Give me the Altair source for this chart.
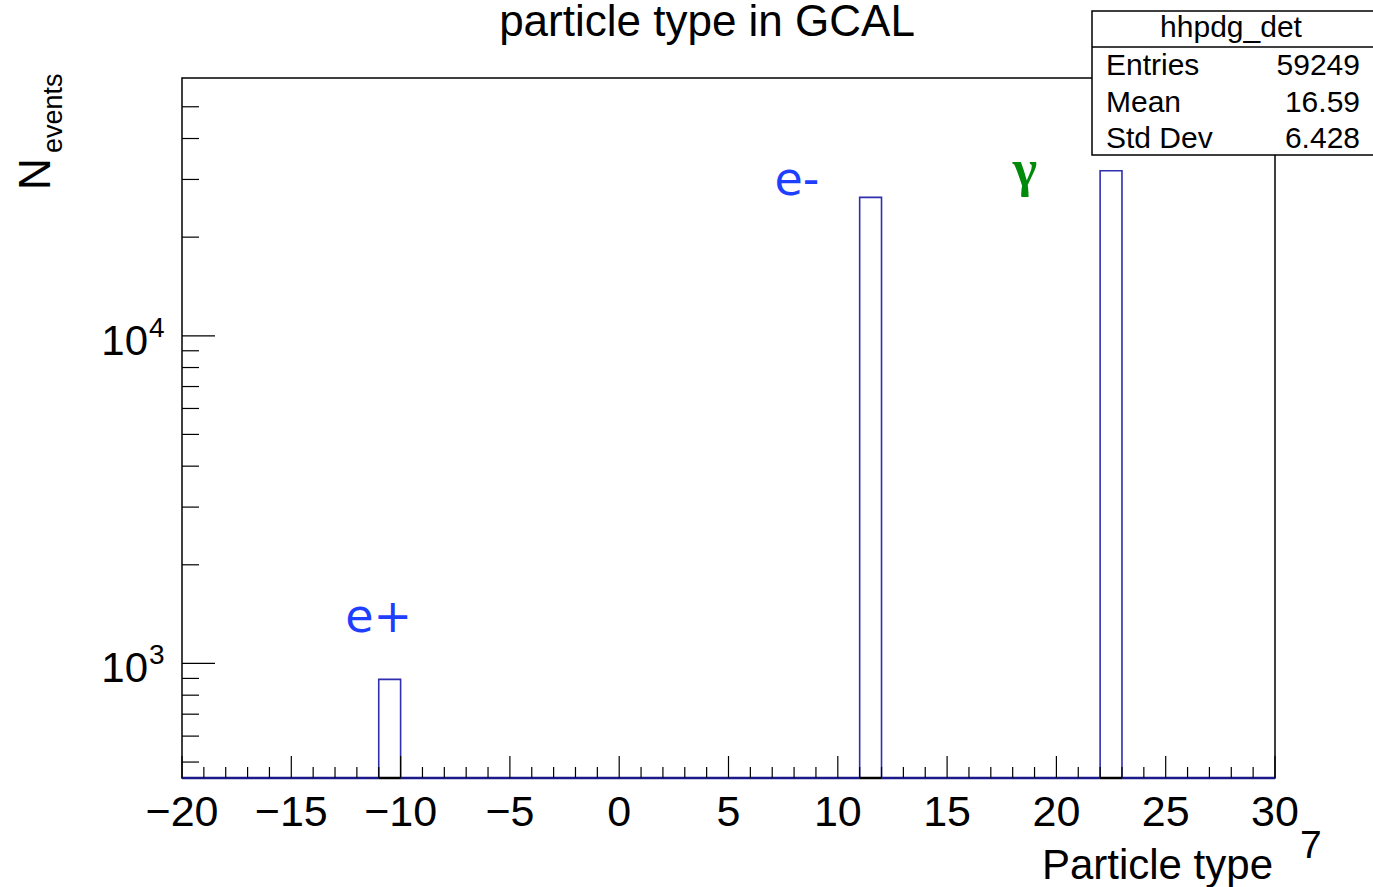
import altair as alt
import pandas as pd

# ---------------- data ----------------
bin_lo = [-11, 11, 22]
bin_hi = [-10, 12, 23]
counts = [894, 26458, 31897]

x_domain = [-20, 30]
y_domain = [447, 61200]

x_major = [-20, -15, -10, -5, 0, 5, 10, 15, 20, 25, 30]
x_major_labels = ["\u221220", "\u221215", "\u221210", "\u22125", "0", "5", "10", "15", "20", "25", "30"]
x_minor = [v for v in range(-20, 31) if v % 5 != 0]

y_major = [1000, 10000]
y_major_base = ["10", "10"]
y_major_exp = ["3", "4"]
y_minor = [500, 600, 700, 800, 900,
           2000, 3000, 4000, 5000, 6000, 7000, 8000, 9000,
           20000, 30000, 40000, 50000]

ann_text = ["e+", "e-"]
ann_x = [-11.0, 8.13]
ann_y = [1246, 26890]
gamma_text = ["\u03b3"]
gamma_x = [18.56]
gamma_y = [28640]

stats_title = "hhpdg_det"
stats_names = ["Entries", "Mean", "Std Dev"]
stats_values = ["59249", "16.59", "6.428"]

title_text = "particle type in GCAL"
x_title = "Particle type"
y_title_main = "N"
y_title_sub = "events"
stray_text = "7"

# ---------------- layout ----------------
W, H = 1093, 700
FONT = "Liberation Sans"
BAR_COLOR = "#2f2fb0"
BASE_COLOR = "#1a1a8a"

xs = alt.Scale(domain=x_domain, nice=False, zero=False)
ys = alt.Scale(type="log", domain=y_domain, nice=False)

bars_df = pd.DataFrame({"lo": bin_lo, "hi": bin_hi, "n": counts})

# baseline segments between bars (histogram outline on the floor)
edges_lo = [x_domain[0]] + bin_hi
edges_hi = bin_lo + [x_domain[1]]
base_df = pd.DataFrame({"lo": edges_lo, "hi": edges_hi})

xmaj_df = pd.DataFrame({"v": x_major, "lab": x_major_labels})
xmin_df = pd.DataFrame({"v": x_minor})
ymaj_df = pd.DataFrame({"v": y_major, "b": y_major_base, "e": y_major_exp})
ymin_df = pd.DataFrame({"v": y_minor})

base_rule = alt.Chart(base_df).mark_rule(color=BASE_COLOR, strokeWidth=2.5).encode(
    x=alt.X("lo:Q", scale=xs, axis=None), x2="hi:Q", y=alt.value(H))

under_bar = alt.Chart(bars_df).mark_rule(color="black", strokeWidth=2.5).encode(
    x=alt.X("lo:Q", scale=xs, axis=None), x2="hi:Q", y=alt.value(H))

bars = alt.Chart(bars_df).mark_rect(fillOpacity=0, stroke=BAR_COLOR, strokeWidth=1.6).encode(
    x=alt.X("lo:Q", scale=xs, axis=None), x2="hi:Q",
    y=alt.Y("n:Q", scale=ys, axis=None), y2=alt.value(H))

xmaj_ticks = alt.Chart(xmaj_df).mark_rule(color="black", strokeWidth=1.2).encode(
    x=alt.X("v:Q", scale=xs, axis=None), y=alt.value(H), y2=alt.value(H - 22))
xmin_ticks = alt.Chart(xmin_df).mark_rule(color="black", strokeWidth=1.2).encode(
    x=alt.X("v:Q", scale=xs, axis=None), y=alt.value(H), y2=alt.value(H - 11))

ymaj_ticks = alt.Chart(ymaj_df).mark_rule(color="black", strokeWidth=1.2).encode(
    y=alt.Y("v:Q", scale=ys, axis=None), x=alt.value(0), x2=alt.value(33))
ymin_ticks = alt.Chart(ymin_df).mark_rule(color="black", strokeWidth=1.2).encode(
    y=alt.Y("v:Q", scale=ys, axis=None), x=alt.value(0), x2=alt.value(17))

xlabels = alt.Chart(xmaj_df).mark_text(font=FONT, fontSize=43, align="center",
                                       baseline="alphabetic", color="black").encode(
    x=alt.X("v:Q", scale=xs, axis=None), y=alt.value(748), text="lab:N")

ylab_base = alt.Chart(ymaj_df).mark_text(font=FONT, fontSize=42, align="right",
                                         baseline="alphabetic", dy=19, color="black").encode(
    y=alt.Y("v:Q", scale=ys, axis=None), x=alt.value(-34), text="b:N")
ylab_exp = alt.Chart(ymaj_df).mark_text(font=FONT, fontSize=28, align="left",
                                        baseline="alphabetic", dy=1, color="black").encode(
    y=alt.Y("v:Q", scale=ys, axis=None), x=alt.value(-33), text="e:N")

def label(txt, x, y, **kw):
    return alt.Chart(pd.DataFrame({"t": [txt]})).mark_text(
        font=FONT, baseline="alphabetic", color="black", **kw).encode(
        x=alt.value(x), y=alt.value(y), text="t:N")

title = label(title_text, 525, -42, fontSize=44, align="center")
xtitle = label(x_title, 1091, 801, fontSize=42, align="right")
stray = label(stray_text, 1118, 780, fontSize=39, align="left")
ytitle_n = label(y_title_main, -132, 112, fontSize=44, align="left", angle=270)
ytitle_sub = label(y_title_sub, -120, 75, fontSize=27, align="left", angle=270)

ann_df = pd.DataFrame({"t": ann_text, "x": ann_x, "y": ann_y})
ann = alt.Chart(ann_df).mark_text(font="DejaVu Sans", fontSize=46, color="#1f3fff",
                                  align="center", baseline="alphabetic").encode(
    x=alt.X("x:Q", scale=xs, axis=None), y=alt.Y("y:Q", scale=ys, axis=None), text="t:N")
gamma_df = pd.DataFrame({"t": gamma_text, "x": gamma_x, "y": gamma_y})
gamma = alt.Chart(gamma_df).mark_text(font="Liberation Serif", fontWeight="bold", fontSize=52,
                                      color="#008a0a", align="center", baseline="alphabetic").encode(
    x=alt.X("x:Q", scale=xs, axis=None), y=alt.Y("y:Q", scale=ys, axis=None), text="t:N")

# stats box
box = alt.Chart(pd.DataFrame({"a": [0]})).mark_rect(fill="white", stroke="black", strokeWidth=1.5).encode(
    x=alt.value(910), x2=alt.value(1200), y=alt.value(-67), y2=alt.value(77))
box_line = alt.Chart(pd.DataFrame({"a": [0]})).mark_rule(color="black", strokeWidth=1.5).encode(
    x=alt.value(910), x2=alt.value(1200), y=alt.value(-31))
box_title = label(stats_title, 1049, -41, fontSize=30, align="center")
stats_df = pd.DataFrame({"name": stats_names, "val": stats_values, "row": [0, 1, 2]})
row_scale = alt.Scale(domain=[0, 2], range=[-3, 70])
stats_names_l = alt.Chart(stats_df).mark_text(font=FONT, fontSize=30, align="left",
                                              baseline="alphabetic", color="black").encode(
    x=alt.value(924), y=alt.Y("row:Q", scale=row_scale, axis=None), text="name:N")
stats_vals_l = alt.Chart(stats_df).mark_text(font=FONT, fontSize=30, align="right",
                                             baseline="alphabetic", color="black").encode(
    x=alt.value(1178), y=alt.Y("row:Q", scale=row_scale, axis=None), text="val:N")

stats_layer = alt.layer(stats_names_l, stats_vals_l).resolve_scale(y="independent")

chart = alt.layer(
    base_rule, bars, under_bar, xmin_ticks, xmaj_ticks, ymin_ticks, ymaj_ticks,
    xlabels, ylab_base, ylab_exp, ann, gamma,
    title, xtitle, stray, ytitle_n, ytitle_sub,
    box, box_line, box_title, stats_layer,
).resolve_scale(y="independent").properties(
    width=W, height=H,
    padding={"left": 182, "top": 78, "right": 98, "bottom": 109},
    autosize=alt.AutoSizeParams(type="none"),
    background="white",
).configure_view(stroke="black", strokeWidth=1.5)

chart.save("out.html", embed_options={"renderer": "svg", "actions": False})
